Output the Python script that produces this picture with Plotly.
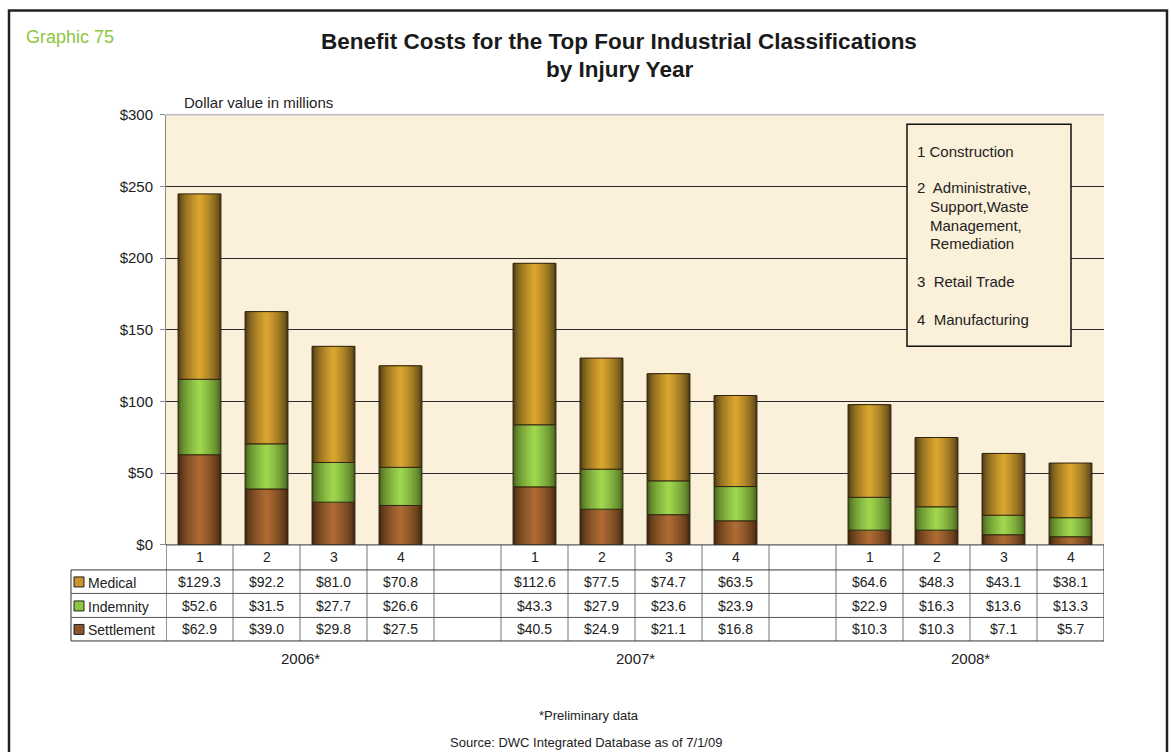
import plotly.graph_objects as go

# ---------------- data ----------------
years = ["2006*", "2007*", "2008*"]
classes = ["1", "2", "3", "4"]
medical = [129.3, 92.2, 81.0, 70.8, 112.6, 77.5, 74.7, 63.5, 64.6, 48.3, 43.1, 38.1]
indemnity = [52.6, 31.5, 27.7, 26.6, 43.3, 27.9, 23.6, 23.9, 22.9, 16.3, 13.6, 13.3]
settlement = [62.9, 39.0, 29.8, 27.5, 40.5, 24.9, 21.1, 16.8, 10.3, 10.3, 7.1, 5.7]
y_ticks = [0, 50, 100, 150, 200, 250, 300]
legend_items = ["1 Construction", "2  Administrative,", "Support,Waste", "Management,",
                "Remediation", "3  Retail Trade", "4  Manufacturing"]

W, H = 1171, 752
FONT = "Liberation Sans, Arial, sans-serif"
NARROW = "Liberation Sans Narrow, Arial Narrow, Liberation Sans, sans-serif"

# vertical calibration of the captured page (observed: y_out = 0.977*y + 8.8)
SY, OY = 0.977, 8.8


def px(x):
    return x / W


def py(y):
    return 1 - ((y - OY) / SY) / H


# x positions: 4 bars per year, one empty column between years
xpos = [i * 5 + j for i in range(len(years)) for j in range(len(classes))]
base_ind = settlement[:]
base_med = [s + d for s, d in zip(settlement, indemnity)]


def hex2rgb(h):
    h = h.lstrip("#")
    return tuple(int(h[i:i + 2], 16) for i in (0, 2, 4))


def lerp(c1, c2, t):
    a, b = hex2rgb(c1), hex2rgb(c2)
    return "rgb(%d,%d,%d)" % tuple(round(a[k] + (b[k] - a[k]) * t) for k in range(3))


series = [
    ("Settlement", settlement, [0] * len(settlement), "#3f250f", "#ad6a33"),
    ("Indemnity", indemnity, base_ind, "#43601c", "#9ed64e"),
    ("Medical", medical, base_med, "#4a3914", "#d9a52f"),
]

BW = 0.64
N = 14
fig = go.Figure()
for name, vals, base, edge, center in series:
    for k in range(N):
        t = k / (N - 1)
        w = BW * (1 - k / N)
        col = lerp(edge, center, min(1, (t ** 0.6)))
        fig.add_trace(go.Bar(x=xpos, y=vals, base=base, width=w,
                             marker=dict(color=col, line=dict(width=0)),
                             showlegend=False, hoverinfo="skip"))
    fig.add_trace(go.Bar(x=xpos, y=vals, base=base, width=BW, name=name,
                         marker=dict(color="rgba(0,0,0,0)", line=dict(color="#2e2410", width=1)),
                         showlegend=False))

x_left, x_right = 166, 1104
y_top, y_bot = 114.5, 544.5
FS = 14

fig.update_layout(
    width=W, height=H,
    margin=dict(l=0, r=0, t=0, b=0),
    paper_bgcolor="white",
    plot_bgcolor="#fbf0d9",
    barmode="overlay",
    font=dict(family=FONT, size=FS, color="#222"),
    xaxis=dict(domain=[px(x_left), px(x_right)], range=[-0.5, 13.5],
               showticklabels=False, showgrid=False, zeroline=False,
               showline=False, ticks=""),
    yaxis=dict(domain=[py(y_bot), py(y_top)], range=[0, 300],
               tickvals=y_ticks, ticktext=["$%d" % v for v in y_ticks],
               showgrid=True, gridcolor="#2a2a2a", gridwidth=1,
               zeroline=False, showline=True, linecolor="#888", linewidth=1,
               ticks="outside", ticklen=5, tickcolor="#888", ticklabelstandoff=4,
               tickfont=dict(size=15, color="#222", family=FONT)),
)

shapes = []
ann = []

# outer frame
shapes.append(dict(type="rect", xref="paper", yref="paper", x0=px(9), x1=px(1167),
                   y0=-0.05, y1=py(10.2), line=dict(color="#222", width=2.5)))
# top of plot area lighter line
shapes.append(dict(type="line", xref="paper", yref="paper", x0=px(x_left), x1=px(x_right),
                   y0=py(y_top), y1=py(y_top), line=dict(color="#bbb", width=1.5)))

# titles
ann.append(dict(text="Graphic 75", x=px(24), y=py(37), xref="paper", yref="paper",
                xanchor="left", yanchor="middle", showarrow=False,
                font=dict(size=18, color="#8dc63f", family=FONT)))
ann.append(dict(text="<b>Benefit Costs for the Top Four Industrial Classifications</b>",
                x=px(619), y=py(41), xref="paper", yref="paper", xanchor="center",
                yanchor="middle", showarrow=False, font=dict(size=22.5, color="#1a1a1a", family=FONT)))
ann.append(dict(text="<b>by Injury Year</b>", x=px(619), y=py(69), xref="paper", yref="paper",
                xanchor="center", yanchor="middle", showarrow=False,
                font=dict(size=22.5, color="#1a1a1a", family=FONT)))
ann.append(dict(text="Dollar value in millions", x=px(182), y=py(102), xref="paper", yref="paper",
                xanchor="left", yanchor="middle", showarrow=False,
                font=dict(size=15, color="#222", family=FONT)))

# legend box (industry names)
shapes.append(dict(type="rect", xref="paper", yref="paper", x0=px(907), x1=px(1071),
                   y0=py(346), y1=py(124), line=dict(color="#111", width=1.5),
                   fillcolor="#fbf0d9"))
leg_y = [151, 187, 206, 225, 243, 281, 319]
leg_x = [915, 915, 928, 928, 928, 915, 915]
for t, yy, xx in zip(legend_items, leg_y, leg_x):
    ann.append(dict(text=t, x=px(xx), y=py(yy), xref="paper", yref="paper", xanchor="left",
                    yanchor="middle", showarrow=False, font=dict(size=15, color="#222", family=FONT)))

# data table
row_lines = [544.5, 569.5, 593, 617, 640.5]
tab_left = 71
for k in range(15):
    shapes.append(dict(type="line", xref="x", yref="paper", x0=k - 0.5, x1=k - 0.5,
                       y0=py(640.5), y1=py(544.5),
                       line=dict(color="#333" if k in (0, 14) else "#777", width=1)))
shapes.append(dict(type="line", xref="paper", yref="paper", x0=px(tab_left), x1=px(tab_left),
                   y0=py(640.5), y1=py(569.5), line=dict(color="#333", width=1)))
for i, yy in enumerate(row_lines):
    x0 = x_left if i == 0 else tab_left
    shapes.append(dict(type="line", xref="paper", yref="paper", x0=px(x0), x1=px(x_right),
                       y0=py(yy), y1=py(yy),
                       line=dict(color="#333" if i in (0, 1, 4) else "#555", width=1)))

for xv, c in zip(xpos, classes * len(years)):
    ann.append(dict(text=c, x=xv, y=py(557), xref="x", yref="paper", xanchor="center",
                    yanchor="middle", showarrow=False, font=dict(size=FS, color="#222", family=FONT)))

rows = [("Medical", medical, 581.5, "#c8962a"), ("Indemnity", indemnity, 605.5, "#8cc63f"),
        ("Settlement", settlement, 629, "#8b5328")]
for name, vals, yy, col in rows:
    shapes.append(dict(type="rect", xref="paper", yref="paper", x0=px(74), x1=px(84),
                       y0=py(yy + 5), y1=py(yy - 5), fillcolor=col,
                       line=dict(color="#222", width=1)))
    ann.append(dict(text=name, x=px(86), y=py(yy + 1), xref="paper", yref="paper",
                    xanchor="left", yanchor="middle", showarrow=False,
                    font=dict(size=FS, color="#222", family=FONT)))
    for xv, v in zip(xpos, vals):
        ann.append(dict(text="$%.1f" % v, x=xv, y=py(yy), xref="x", yref="paper",
                        xanchor="center", yanchor="middle", showarrow=False,
                        font=dict(size=FS, color="#222", family=FONT)))

for i, yr in enumerate(years):
    ann.append(dict(text=yr, x=i * 5 + 1.5, y=py(658), xref="x", yref="paper",
                    xanchor="center", yanchor="middle", showarrow=False,
                    font=dict(size=15, color="#222", family=NARROW)))

ann.append(dict(text="*Preliminary data", x=px(589), y=py(715), xref="paper", yref="paper",
                xanchor="center", yanchor="middle", showarrow=False,
                font=dict(size=13, color="#222", family=NARROW)))
ann.append(dict(text="Source: DWC Integrated Database as of 7/1/09", x=px(586), y=py(742),
                xref="paper", yref="paper", xanchor="center", yanchor="middle", showarrow=False,
                font=dict(size=13, color="#222", family=NARROW)))

fig.update_layout(shapes=shapes, annotations=ann)
fig.write_html(
    "out.html",
    config={"displayModeBar": False},
    post_script=(
        "document.documentElement.style.margin='0';"
        "document.documentElement.style.overflow='hidden';"
        "document.body.style.margin='0';document.body.style.overflow='hidden';"
        "var gd=document.getElementById('{plot_id}');"
        "gd.style.position='fixed';gd.style.top='0px';gd.style.left='0px';"
    ),
)
